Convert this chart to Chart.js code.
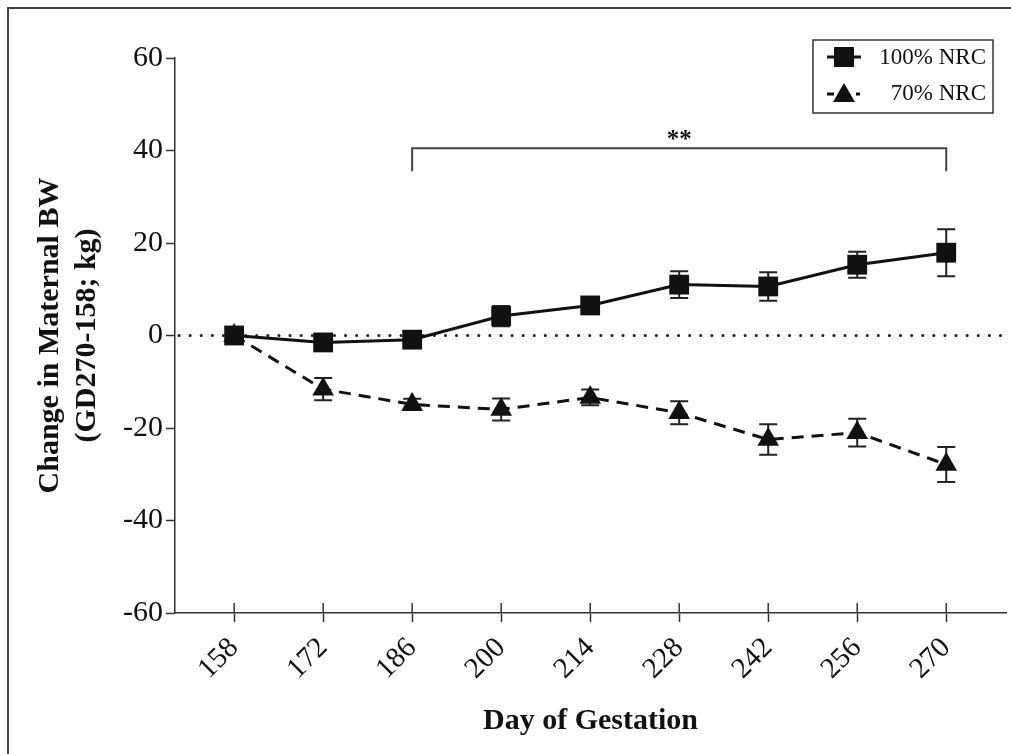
<!DOCTYPE html>
<html>
<head>
<meta charset="utf-8">
<script src="https://cdn.jsdelivr.net/npm/chart.js@4/dist/chart.umd.min.js"></script>
<style>
  body { margin: 0; background: #fff; }
  canvas { display: block; }
</style>
</head>
<body>
<canvas id="myChart" width="1011" height="754"></canvas>
<script>
const days = [158, 172, 186, 200, 214, 228, 242, 256, 270];
const nrc100 = [0, -1.5, -0.9, 4.2, 6.5, 11.0, 10.6, 15.3, 17.9];
const nrc100Err = [0.5, 0.8, 0.8, 2.2, 1.5, 2.9, 3.1, 2.8, 5.1];
const nrc70 = [0, -11.6, -14.9, -16.0, -13.4, -16.7, -22.5, -21.0, -27.9];
const nrc70Err = [0.5, 2.4, 1.2, 2.4, 1.7, 2.5, 3.3, 3.0, 3.8];
const yTicks = [-60, -40, -20, 0, 20, 40, 60];
const labels = ["100% NRC", "70% NRC"];
const bracket = { from: 186, to: 270, y: 40.5, drop: 5, text: "**" };

const serif = "'Liberation Serif', 'Times New Roman', serif";
const ink = "#111";
const axisColor = "#333";

function pts(values) {
  return days.map((d, i) => ({ x: d, y: values[i] }));
}

// frame, zero line, error bars, bracket, legend
const extras = {
  id: "extras",
  beforeDraw(chart) {
    const ctx = chart.ctx;
    ctx.save();
    ctx.strokeStyle = "#444";
    ctx.lineWidth = 2;
    ctx.beginPath();
    ctx.moveTo(8, 754);
    ctx.lineTo(8, 8);
    ctx.lineTo(1011, 8);
    ctx.stroke();
    ctx.restore();
  },
  beforeDatasetsDraw(chart) {
    const ctx = chart.ctx;
    const xs = chart.scales.x;
    const ys = chart.scales.y;
    const area = chart.chartArea;
    ctx.save();
    // dotted zero line
    ctx.strokeStyle = "#222";
    ctx.lineWidth = 3;
    ctx.lineCap = "round";
    ctx.setLineDash([0.1, 11]);
    ctx.beginPath();
    ctx.moveTo(area.left + 4, ys.getPixelForValue(0));
    ctx.lineTo(area.right, ys.getPixelForValue(0));
    ctx.stroke();
    ctx.setLineDash([]);
    ctx.lineCap = "butt";

    // error bars
    ctx.strokeStyle = "#222";
    ctx.lineWidth = 2;
    [[nrc100, nrc100Err], [nrc70, nrc70Err]].forEach(([vals, errs]) => {
      days.forEach((d, i) => {
        const x = xs.getPixelForValue(d);
        const top = ys.getPixelForValue(vals[i] + errs[i]);
        const bot = ys.getPixelForValue(vals[i] - errs[i]);
        ctx.beginPath();
        ctx.moveTo(x, top);
        ctx.lineTo(x, bot);
        ctx.moveTo(x - 9, top);
        ctx.lineTo(x + 9, top);
        ctx.moveTo(x - 9, bot);
        ctx.lineTo(x + 9, bot);
        ctx.stroke();
      });
    });

    // significance bracket
    const bx1 = xs.getPixelForValue(bracket.from);
    const bx2 = xs.getPixelForValue(bracket.to);
    const by = ys.getPixelForValue(bracket.y);
    const bd = ys.getPixelForValue(bracket.y - bracket.drop);
    ctx.strokeStyle = "#444";
    ctx.lineWidth = 2;
    ctx.beginPath();
    ctx.moveTo(bx1, bd);
    ctx.lineTo(bx1, by);
    ctx.lineTo(bx2, by);
    ctx.lineTo(bx2, bd);
    ctx.stroke();
    ctx.fillStyle = ink;
    ctx.font = "bold 25px " + serif;
    ctx.textAlign = "center";
    ctx.textBaseline = "alphabetic";
    ctx.fillText(bracket.text, (bx1 + bx2) / 2, by - 1);

    // x ticks crossing the axis (inner half)
    ctx.strokeStyle = axisColor;
    ctx.lineWidth = 1.5;
    days.forEach((d) => {
      const x = xs.getPixelForValue(d);
      ctx.beginPath();
      ctx.moveTo(x, area.bottom);
      ctx.lineTo(x, area.bottom - 10);
      ctx.stroke();
    });
    ctx.restore();
  },
  afterDraw(chart) {
    const ctx = chart.ctx;
    ctx.save();
    // legend box
    ctx.strokeStyle = "#333";
    ctx.lineWidth = 1.5;
    ctx.strokeRect(813, 40, 180, 73);
    ctx.fillStyle = ink;
    ctx.strokeStyle = ink;
    ctx.font = "23px " + serif;
    ctx.textAlign = "right";
    ctx.textBaseline = "middle";

    // entry 1: solid line + square
    ctx.lineWidth = 3;
    ctx.beginPath();
    ctx.moveTo(827, 57);
    ctx.lineTo(861, 57);
    ctx.stroke();
    ctx.fillRect(834, 47, 20, 20);
    ctx.fillText(labels[0], 986, 58);

    // entry 2: dashed line + triangle
    ctx.beginPath();
    ctx.moveTo(827, 94);
    ctx.lineTo(834, 94);
    ctx.moveTo(856, 94);
    ctx.lineTo(860, 94);
    ctx.stroke();
    ctx.beginPath();
    ctx.moveTo(844, 83);
    ctx.lineTo(855, 102);
    ctx.lineTo(833, 102);
    ctx.closePath();
    ctx.fill();
    ctx.fillText(labels[1], 986, 94);
    ctx.restore();
  }
};

new Chart("myChart", {
  type: "line",
  data: {
    datasets: [
      {
        label: labels[0],
        data: pts(nrc100),
        borderColor: ink,
        backgroundColor: ink,
        borderWidth: 3,
        pointStyle: "rect",
        pointRadius: 14,
        pointBorderWidth: 0,
        fill: false,
        tension: 0
      },
      {
        label: labels[1],
        data: pts(nrc70),
        borderColor: ink,
        backgroundColor: ink,
        borderWidth: 3,
        borderDash: [12, 8],
        pointStyle: "triangle",
        pointRadius: 12.5,
        pointBorderWidth: 0,
        fill: false,
        tension: 0
      }
    ]
  },
  options: {
    responsive: false,
    animation: false,
    layout: { autoPadding: false, padding: { left: 0, right: 5, top: 58, bottom: 0 } },
    plugins: {
      legend: { display: false },
      tooltip: { enabled: false }
    },
    scales: {
      x: {
        type: "linear",
        min: 148.7,
        max: 279.4,
        afterBuildTicks: (scale) => {
          scale.ticks = days.map((d) => ({ value: d }));
        },
        afterFit: (scale) => {
          scale.height = 754 - 613;
          scale.paddingRight = 0;
          scale.paddingLeft = 0;
        },
        ticks: {
          color: ink,
          font: { family: serif, size: 29 },
          maxRotation: 45,
          minRotation: 45,
          padding: 9
        },
        grid: {
          drawOnChartArea: false,
          tickLength: 9,
          tickColor: axisColor,
          tickWidth: 1.5
        },
        border: { color: axisColor, width: 1.5 },
        title: {
          display: true,
          text: "Day of Gestation",
          color: ink,
          font: { family: serif, size: 30, weight: "bold", lineHeight: 1.23 },
          padding: { top: 0, bottom: 14 }
        }
      },
      y: {
        min: -60,
        max: 60,
        afterBuildTicks: (scale) => {
          scale.ticks = yTicks.map((v) => ({ value: v }));
        },
        afterFit: (scale) => {
          scale.width = 175;
        },
        ticks: {
          color: ink,
          font: { family: serif, size: 30 },
          padding: 3
        },
        grid: {
          drawOnChartArea: false,
          tickLength: 9,
          tickColor: axisColor,
          tickWidth: 1.5
        },
        border: { color: axisColor, width: 1.5 },
        title: {
          display: true,
          text: ["Change in Maternal BW", "(GD270-158; kg)"],
          color: ink,
          font: { family: serif, size: 30, weight: "bold", lineHeight: 1.23 },
          padding: { top: 32, bottom: 0 }
        }
      }
    }
  },
  plugins: [extras]
});
</script>
</body>
</html>
